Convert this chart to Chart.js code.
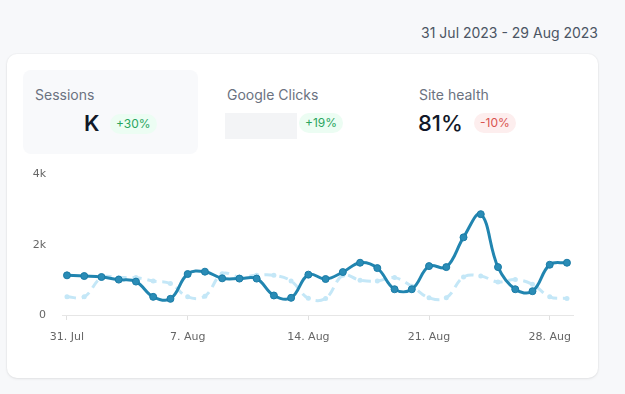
<!DOCTYPE html>
<html>
<head>
<meta charset="utf-8">
<script src="https://cdn.jsdelivr.net/npm/chart.js@4/dist/chart.umd.min.js"></script>
<style>
  html, body { margin: 0; padding: 0; }
  body { width: 625px; height: 394px; background: #f7f8fa; font-family: Inter, "Noto Sans", sans-serif; position: relative; overflow: hidden; }
  .date { position: absolute; right: 27px; top: 24px; font-size: 14px; color: #4b5563; }
  .card { position: absolute; left: 7px; top: 54px; width: 591px; height: 324px; background: #fff; border-radius: 10px; box-shadow: 0 1px 3px rgba(0,0,0,0.08), 0 0 0 1px rgba(0,0,0,0.02); }
  .kpi { position: absolute; }
  .kpi .lbl { font-size: 14px; color: #6b7280; }
  .k1 { left: 16px; top: 16px; width: 175px; height: 84px; background: #f8f9fb; border-radius: 8px; }
  .k1 .lbl { position: absolute; left: 12px; top: 16px; }
  .val { position: absolute; font-size: 22px; font-weight: 600; color: #111827; }
  .badge { position: absolute; font-size: 12px; padding: 2px 6px; border-radius: 10px; line-height: 16px; }
  .up { background: #ecfdf3; color: #2aa55f; }
  .down { background: #fdeeee; color: #d9534f; }
  .skel { position: absolute; background: #f3f4f6; }
  #wrap { position: absolute; left: 17px; top: 106px; width: 560px; height: 193px; }
</style>
</head>
<body>
<div class="date">31 Jul 2023 - 29 Aug 2023</div>
<div class="card">
  <div class="kpi k1">
    <div class="lbl">Sessions</div>
    <div class="val" style="left:61px; top:40px;">K</div>
    <div class="badge up" style="left:87px; top:44px;">+30%</div>
  </div>
  <div class="kpi lbl" style="left:220px; top:32px; font-size:14px; color:#6b7280;">Google Clicks</div>
  <div class="skel" style="left:218px; top:59px; width:72px; height:26px;"></div>
  <div class="badge up" style="left:292px; top:59px;">+19%</div>
  <div class="kpi lbl" style="left:412px; top:32px; font-size:14px; color:#6b7280;">Site health</div>
  <div class="val" style="left:411px; top:56px; font-weight:500;">81%</div>
  <div class="badge down" style="left:467px; top:59px;">-10%</div>
  <div id="wrap"><canvas id="c" width="560" height="193"></canvas></div>
</div>
<script>
const dates = ["31. Jul","1. Aug","2. Aug","3. Aug","4. Aug","5. Aug","6. Aug","7. Aug","8. Aug","9. Aug","10. Aug","11. Aug","12. Aug","13. Aug","14. Aug","15. Aug","16. Aug","17. Aug","18. Aug","19. Aug","20. Aug","21. Aug","22. Aug","23. Aug","24. Aug","25. Aug","26. Aug","27. Aug","28. Aug","29. Aug"];
const sessionsCurrent = [1130,1110,1082,1008,952,517,460,1167,1234,1045,1037,1037,556,489,1150,1025,1223,1489,1336,734,734,1393,1364,2212,2873,1364,734,678,1432,1489];
const sessionsPrevious = [517,517,1065,1065,1065,969,895,517,537,1178,1082,1130,1130,969,476,472,1130,989,969,1065,819,489,489,1082,1110,941,1008,876,517,472];
const xTickIndices = [0,7,14,21,28];
const yTicks = [0,2000,4000];
const yTickLabels = ["0","2k","4k"];

const toXY = arr => arr.map((v,i) => ({x:i, y:v}));

new Chart(document.getElementById('c'), {
  type: 'line',
  data: {
    datasets: [
      {
        label: 'Current',
        data: toXY(sessionsCurrent),
        borderColor: '#2185b0',
        backgroundColor: '#2185b0',
        borderWidth: 3,
        pointRadius: 3.5,
        pointBorderWidth: 1,
        pointBorderColor: '#1a7ba6',
        pointBackgroundColor: '#2a8cb6',
        tension: 0.4,
        order: 1
      },
      {
        label: 'Previous',
        data: toXY(sessionsPrevious),
        borderColor: '#c4e7f7',
        backgroundColor: '#c4e7f7',
        borderWidth: 3,
        borderDash: [9, 6],
        pointRadius: 2.5,
        pointBorderWidth: 0,
        pointBackgroundColor: '#c4e7f7',
        tension: 0.4,
        order: 2
      }
    ]
  },
  options: {
    animation: false,
    responsive: false,
    devicePixelRatio: 1,
    layout: { padding: { top: 3, right: 11, left: 0, bottom: 0 } },
    plugins: { legend: { display: false }, tooltip: { enabled: false } },
    scales: {
      x: {
        type: 'linear',
        min: -0.29,
        max: 29.35,
        afterBuildTicks: s => { s.ticks = xTickIndices.map(v => ({value: v})); },
        afterFit: s => { s.height = 38; },
        ticks: {
          autoSkip: false,
          maxRotation: 0,
          padding: 11,
          color: '#666',
          font: { family: 'DejaVu Sans', size: 11 },
          callback: v => dates[v] || ''
        },
        grid: { drawOnChartArea: false, drawTicks: true, tickLength: 5, color: '#e0e0e0' },
        border: { display: true, color: '#e6e6e6', width: 1 }
      },
      y: {
        min: 0,
        max: 4000,
        afterBuildTicks: s => { s.ticks = yTicks.map(v => ({value: v})); },
        afterFit: s => { s.width = 38; },
        ticks: {
          padding: 8,
          color: '#666',
          font: { family: 'DejaVu Sans', size: 11 },
          callback: v => yTickLabels[yTicks.indexOf(v)]
        },
        grid: { display: false },
        border: { display: false }
      }
    }
  }
});
</script>
</body>
</html>
